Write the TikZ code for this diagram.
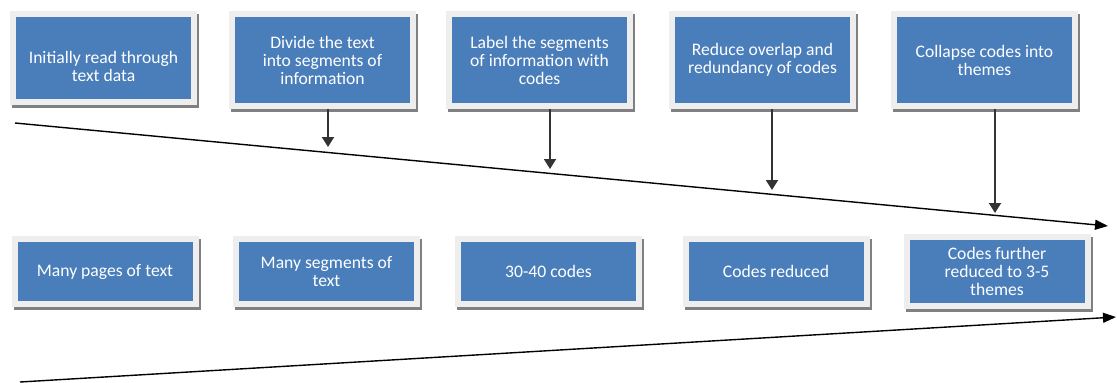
\documentclass[tikz,border=0pt]{standalone}
\usepackage{fontspec}
\setmainfont{Carlito}
\usetikzlibrary{arrows.meta,shadows,calc}
\definecolor{boxblue}{RGB}{74,126,187}
\definecolor{framegray}{RGB}{238,238,238}
\definecolor{shadowgray}{RGB}{128,128,130}
\tikzset{
  stagetext/.style={text=white, align=center, font=\fontsize{17.6}{18}\selectfont},
  stage/.style={stagetext, minimum width=187pt, inner sep=0pt, fill=framegray,
    drop shadow={shadow xshift=2pt, shadow yshift=-2.5pt, fill=shadowgray, opacity=1},
    path picture={\fill[boxblue]
      ([shift={(6pt,6pt)}]path picture bounding box.south west) rectangle
      ([shift={(-6pt,-6pt)}]path picture bounding box.north east);}},
  toprow/.style={stage, minimum height=98pt},
  lowrow/.style={stage, minimum height=71pt},
  flow/.style={draw=black, line width=1.4pt, -{Triangle[length=13pt,width=10pt]}},
  drop/.style={draw=black!80, line width=1.8pt, -{Triangle[length=10pt,width=12pt]}}
}
\begin{document}
\begin{tikzpicture}[x=1pt,y=-1pt]
\useasboundingbox (0,0) rectangle (1117,383);

% process steps
\node[toprow, minimum height=94pt,
  label={[name=b1t, stagetext, yshift=-8pt]center:{Initially read through\\text data}}]
  (b1) at (103.5,58) {};
\node[toprow] (b2) at (322.5,60) {Divide the text\\into segments of\\information};
\node[toprow] (b3) at (539.5,60) {Label the segments\\of information with\\codes};
\node[toprow] (b4) at (762.5,60) {Reduce overlap and\\redundancy of codes};
\node[toprow] (b5) at (984.5,60) {Collapse codes into\\themes};

% resulting data
\node[lowrow] (c1) at (105,271.5) {Many pages of text};
\node[lowrow] (c2) at (326.5,271.5) {Many segments of\\text};
\node[lowrow] (c3) at (548.5,271.5) {30-40 codes};
\node[lowrow] (c4) at (776,271.5) {Codes reduced};
\node[lowrow, minimum height=75pt] (c5) at (997,271.5) {Codes further\\reduced to 3-5\\themes};

% converging flow lines
\coordinate (l1s) at (15,123);
\coordinate (l1e) at (1108,226);
\coordinate (l2s) at (20,382);
\coordinate (l2e) at (1116,317);
\draw[flow] (l1s) -- (l1e);
\draw[flow] (l2s) -- (l2e);

% step arrows onto the upper line
\coordinate (t2) at (328,147);
\coordinate (t3) at (550,169);
\coordinate (t4) at (772,190);
\coordinate (t5) at (995,213);
\draw[drop] (b2.south -| t2) -- (t2);
\draw[drop] (b3.south -| t3) -- (t3);
\draw[drop] (b4.south -| t4) -- (t4);
\draw[drop] (b5.south -| t5) -- (t5);
\end{tikzpicture}
\end{document}
